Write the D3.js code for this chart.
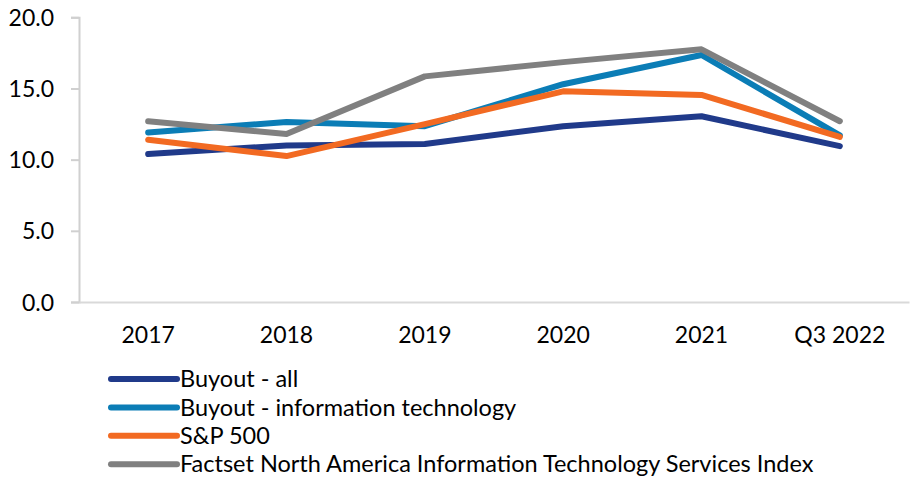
<!DOCTYPE html>
<html><head><meta charset="utf-8">
<script src="https://cdn.jsdelivr.net/npm/d3@7"></script>
<style>body{margin:0;background:#fff}svg{display:block}text{font-family:Lato,"Open Sans",sans-serif;fill:#000}</style>
</head><body><svg id="c" width="920" height="482"></svg>
<script>
const categories = ["2017","2018","2019","2020","2021","Q3 2022"];
const seriesNames = ["Buyout - all","Buyout - information technology","S&P 500","Factset North America Information Technology Services Index"];
const buyoutAll = [10.4, 11.0, 11.1, 12.35, 13.05, 10.95];
const buyoutIT = [11.9, 12.65, 12.35, 15.3, 17.35, 11.7];
const sp500 = [11.4, 10.25, 12.5, 14.8, 14.55, 11.6];
const factset = [12.7, 11.8, 15.85, 16.85, 17.75, 12.7];
const yTicks = [0, 5, 10, 15, 20];
const colors = ["#203a8a","#0b7db6","#f26a22","#808080"];
const allSeries = [buyoutAll, buyoutIT, sp500, factset];

const svg = d3.select("#c");
const x = d3.scaleBand().domain(categories).range([79, 909]);
const y = d3.scaleLinear().domain([0, 20]).range([302, 17.3]);

const yAxis = svg.append("g").attr("transform","translate(79,0)")
  .call(d3.axisLeft(y).tickValues(yTicks).tickFormat(d3.format(".1f")).tickSize(8).tickPadding(17));
yAxis.select(".domain").attr("stroke","#d0d0d0").attr("stroke-width",2);
yAxis.selectAll(".tick line").attr("stroke","#d0d0d0").attr("stroke-width",2);
yAxis.selectAll("text").style("font-size","23px").attr("dy","0.35em");

const xAxis = svg.append("g").attr("transform","translate(0,302)")
  .call(d3.axisBottom(x).tickSize(0).tickPadding(33));
xAxis.select(".domain").attr("stroke","#d9d9d9").attr("stroke-width",2);
xAxis.selectAll("text").style("font-size","23px").attr("dy","0.35em");

const line = d3.line().x((d,i)=>x(categories[i])+x.bandwidth()/2).y(d=>y(d));
allSeries.forEach((s,k)=>{
  svg.append("path").datum(s).attr("d",line).attr("fill","none")
    .attr("stroke",colors[k]).attr("stroke-width",6)
    .attr("stroke-linecap","round").attr("stroke-linejoin","round");
});

const lg = svg.append("g");
seriesNames.forEach((n,k)=>{
  const yy = 379 + k*28.4;
  lg.append("line").attr("x1",111).attr("x2",177).attr("y1",yy).attr("y2",yy)
    .attr("stroke",colors[k]).attr("stroke-width",6).attr("stroke-linecap","round");
  lg.append("text").attr("x",180).attr("y",yy).attr("dy","0.35em").style("font-size","23.5px").text(n);
});
</script></body></html>
